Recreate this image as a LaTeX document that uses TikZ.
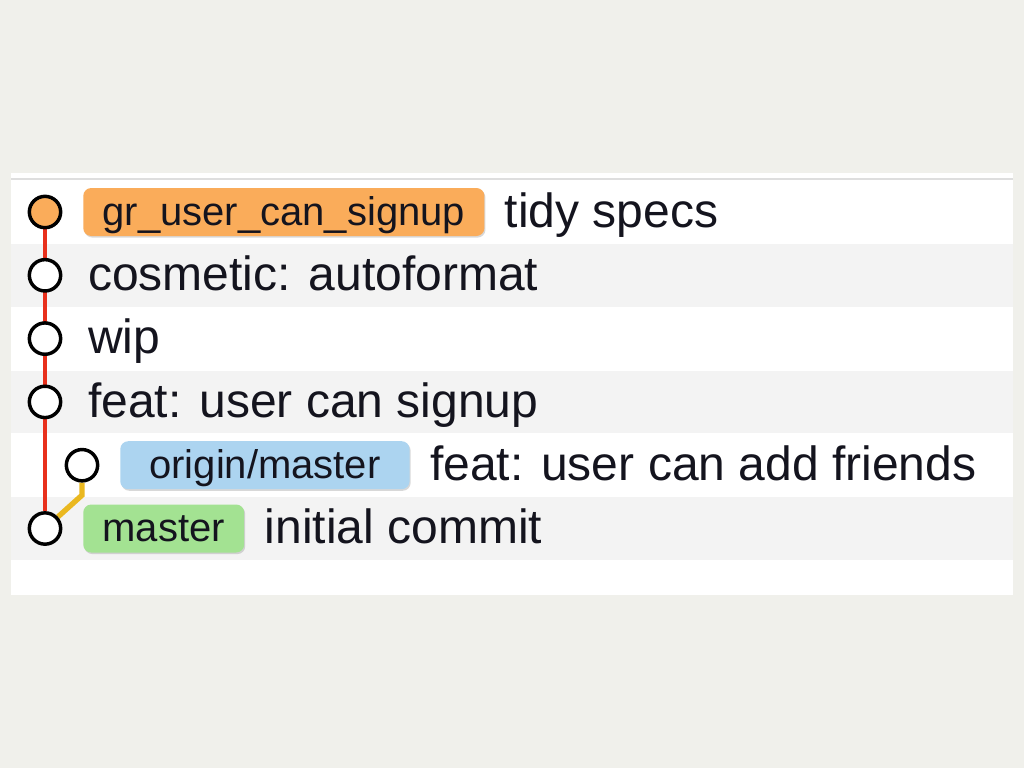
\documentclass[tikz,border=0pt]{standalone}
\usepackage{fontspec}
\setmainfont{Liberation Sans}
\usetikzlibrary{positioning,shadows,backgrounds}
\definecolor{pagebg}{RGB}{240,240,235}
\definecolor{rowgray}{RGB}{243,243,243}
\definecolor{rule}{RGB}{222,222,222}
\definecolor{ink}{RGB}{20,20,30}
\definecolor{tagorange}{RGB}{250,172,90}
\definecolor{tagblue}{RGB}{172,212,240}
\definecolor{taggreen}{RGB}{163,226,146}
\definecolor{branchred}{RGB}{232,48,28}
\definecolor{branchyellow}{RGB}{234,184,32}
\begin{document}
\begin{tikzpicture}[x=0.75pt,y=-0.75pt,
  commit/.style={circle,draw=black,line width=2.6pt,fill=white,minimum size=23.5pt,inner sep=0pt},
  tag/.style={anchor=west,rounded corners=6pt,inner xsep=14.5pt,inner ysep=3pt,text height=24.75pt,text depth=5.25pt,
    font=\fontsize{30}{36}\selectfont,text=ink,drop shadow={shadow xshift=0.8pt,shadow yshift=-1.2pt,opacity=0.3}},
  msg/.style={anchor=west,inner sep=0pt,text height=27pt,text depth=4pt,font=\fontsize{36}{43}\selectfont,text=ink}]
   \useasboundingbox (0,0) rectangle (1024,768);
   \node [commit,fill=tagorange] (c1) at (45,212) {};
   \node [commit] (c2) at (45,275.3) {};
   \node [commit] (c3) at (45,338.6) {};
   \node [commit] (c4) at (45,401.9) {};
   \node [commit] (c5) at (82,465.2) {};
   \node [commit] (c6) at (45,528.5) {};
   \node [tag,fill=tagorange] (signup) at (83,212) {gr\_user\_can\_signup};
   \node [msg,right=15pt of signup] (m1) {tidy specs};
   \node [msg] (m2) at (88,275.3) {cosmetic: autoformat};
   \node [msg] (m3) at (88,338.6) {wip};
   \node [msg] (m4) at (88,401.9) {feat: user can signup};
   \node [tag,fill=tagblue,minimum width=217pt] (origin) at (120,465.2) {origin/master};
   \node [msg,right=15pt of origin] (m5) {feat: user can add friends};
   \node [tag,fill=taggreen] (master) at (83,528.5) {master};
   \node [msg,right=15pt of master] (m6) {initial commit};
   \begin{scope}[on background layer]
   \fill [pagebg] (0,0) rectangle (1024,768);
   \fill [white] (11,173) rectangle (1013,595);
   \draw [rule,line width=1.2pt] (11,179) -- (1013,179);
   \fill [rowgray] (11,244) rectangle (1013,307);
   \fill [rowgray] (11,371) rectangle (1013,433);
   \fill [rowgray] (11,497) rectangle (1013,560);
   \draw [branchred,line width=3.6pt] (c1) -- (c6);
   \draw [branchyellow,line width=4pt] (c5) -- ++(0,30) -- (c6);
   \end{scope}
  \end{tikzpicture}
\end{document}
